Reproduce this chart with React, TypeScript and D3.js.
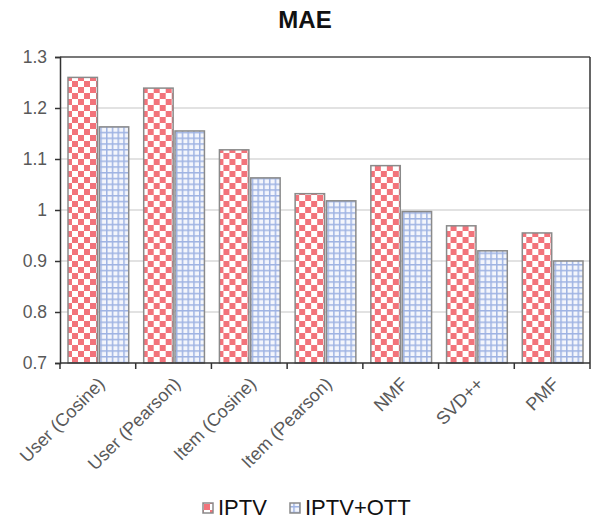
import { useEffect, useRef } from 'react'
import * as d3 from 'd3'

const categories = ['User (Cosine)', 'User (Pearson)', 'Item (Cosine)', 'Item (Pearson)', 'NMF', 'SVD++', 'PMF']
const seriesNames = ['IPTV', 'IPTV+OTT']
const iptv = [1.26, 1.239, 1.118, 1.032, 1.087, 0.969, 0.955]
const iptvOtt = [1.163, 1.155, 1.063, 1.018, 0.997, 0.92, 0.9]
const yTicks = [0.7, 0.8, 0.9, 1, 1.1, 1.2, 1.3]

export default function App() {
  const svgRef = useRef<SVGSVGElement>(null)

  useEffect(() => {
    document.body.style.margin = '0'
    if (!svgRef.current) return
    const svg = d3.select(svgRef.current)
    svg.selectAll('*').remove()

    const width = 597
    const height = 519
    const margin = { top: 57, right: 7, bottom: 156, left: 60 }
    const innerWidth = width - margin.left - margin.right
    const innerHeight = height - margin.top - margin.bottom
    const font = 'Liberation Sans, Arial, sans-serif'

    const defs = svg.append('defs')
    const checker = defs.append('pattern')
      .attr('id', 'checker')
      .attr('patternUnits', 'userSpaceOnUse')
      .attr('width', 12).attr('height', 12)
    checker.append('rect').attr('width', 12).attr('height', 12).attr('fill', '#fff')
    checker.append('rect').attr('width', 6).attr('height', 6).attr('fill', '#f2737b')
    checker.append('rect').attr('x', 6).attr('y', 6).attr('width', 6).attr('height', 6).attr('fill', '#f2737b')

    const grid = defs.append('pattern')
      .attr('id', 'grid')
      .attr('patternUnits', 'userSpaceOnUse')
      .attr('width', 5.75).attr('height', 5.75)
    grid.append('rect').attr('width', 5.75).attr('height', 5.75).attr('fill', '#f4f6fc')
    grid.append('rect').attr('width', 1.5).attr('height', 5.75).attr('fill', '#9fb3e3')
    grid.append('rect').attr('width', 5.75).attr('height', 1.5).attr('fill', '#9fb3e3')

    const fills = ['url(#checker)', 'url(#grid)']

    const x0 = d3.scaleBand().domain(categories).range([0, innerWidth]).paddingInner(0).paddingOuter(0)
    const x1 = d3.scaleBand().domain(seriesNames).range([8, x0.bandwidth() - 7]).paddingInner(0.06)
    const y = d3.scaleLinear().domain([0.7, 1.3]).range([innerHeight, 0])

    svg.append('text')
      .attr('x', 305).attr('y', 28)
      .attr('text-anchor', 'middle')
      .attr('font-family', font)
      .attr('font-size', 24).attr('font-weight', 'bold')
      .attr('fill', '#111')
      .text('MAE')

    const g = svg.append('g').attr('transform', `translate(${margin.left},${margin.top})`)

    g.selectAll('.grid')
      .data(yTicks.slice(1))
      .enter().append('line')
      .attr('x1', 0).attr('x2', innerWidth)
      .attr('y1', d => y(d)).attr('y2', d => y(d))
      .attr('stroke', '#d9d9d9').attr('stroke-width', 1.5)

    const data = categories.map((c, i) => ({ c, vals: [iptv[i], iptvOtt[i]] }))
    const groups = g.selectAll('.cat').data(data).enter().append('g')
      .attr('transform', d => `translate(${x0(d.c)},0)`)
    groups.selectAll('rect')
      .data(d => d.vals.map((v, j) => ({ name: seriesNames[j], v, j })))
      .enter().append('rect')
      .attr('x', d => x1(d.name)!)
      .attr('width', x1.bandwidth())
      .attr('y', d => y(d.v))
      .attr('height', d => innerHeight - y(d.v))
      .attr('fill', d => fills[d.j])
      .attr('stroke', '#8a8a8a').attr('stroke-width', 1.5)

    // frame
    g.append('line').attr('x1', 0).attr('x2', innerWidth).attr('y1', 0).attr('y2', 0)
      .attr('stroke', '#555').attr('stroke-width', 1.5)
    g.append('line').attr('x1', innerWidth).attr('x2', innerWidth).attr('y1', 0).attr('y2', innerHeight)
      .attr('stroke', '#333').attr('stroke-width', 1.5)

    const yAxis = g.append('g')
      .call(d3.axisLeft(y).tickValues(yTicks).tickSize(5).tickPadding(8).tickFormat(d => d3.format('')(d as number)))
    yAxis.select('.domain').attr('stroke', '#333').attr('stroke-width', 1.5)
    yAxis.selectAll('.tick line').attr('stroke', '#333').attr('stroke-width', 1.5)
    yAxis.selectAll('.tick text')
      .attr('font-family', font).attr('font-size', 17.5).attr('fill', '#595959')

    const xAxis = g.append('g').attr('transform', `translate(0,${innerHeight})`)
    xAxis.append('line').attr('x1', 0).attr('x2', innerWidth)
      .attr('stroke', '#333').attr('stroke-width', 1.5)
    xAxis.selectAll('.xtick')
      .data(d3.range(categories.length + 1))
      .enter().append('line')
      .attr('x1', i => i * x0.bandwidth()).attr('x2', i => i * x0.bandwidth())
      .attr('y1', 0).attr('y2', 6)
      .attr('stroke', '#333').attr('stroke-width', 1.5)
    xAxis.selectAll('.xlabel')
      .data(categories)
      .enter().append('text')
      .attr('transform', d => `translate(${x0(d)! + x0.bandwidth() / 2 + 8},${22}) rotate(-45)`)
      .attr('text-anchor', 'end')
      .attr('font-family', font).attr('font-size', 18).attr('fill', '#595959')
      .text(d => d)

    const legend = svg.append('g')
    const items = [
      { name: 'IPTV', x: 203, fill: fills[0] },
      { name: 'IPTV+OTT', x: 290, fill: fills[1] },
    ]
    items.forEach(it => {
      legend.append('rect')
        .attr('x', it.x).attr('y', 503).attr('width', 10).attr('height', 10)
        .attr('fill', it.fill).attr('stroke', '#8a8a8a').attr('stroke-width', 1.5)
      legend.append('text')
        .attr('x', it.x + 15).attr('y', 515)
        .attr('font-family', font).attr('font-size', 22).attr('fill', '#111')
        .text(it.name)
    })
  }, [])

  return <svg ref={svgRef} width={597} height={519} style={{ display: 'block' }} />
}
